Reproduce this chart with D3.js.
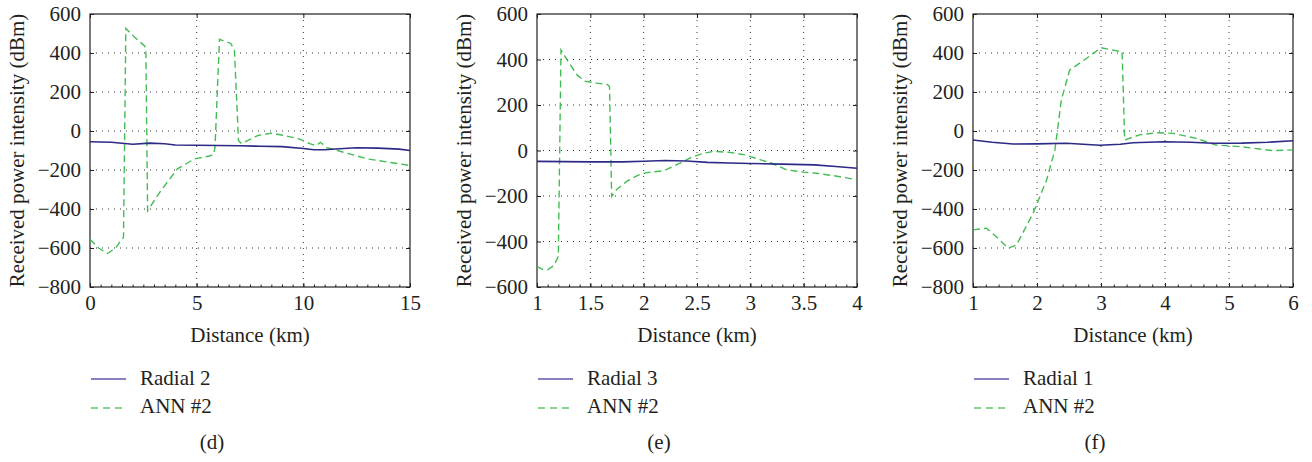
<!DOCTYPE html>
<html>
<head>
<meta charset="utf-8">
<script src="https://cdn.jsdelivr.net/npm/d3@7"></script>
<style>
  body { margin: 0; background: #fff; }
  svg { display: block; }
  text { font-family: "Liberation Serif", "DejaVu Serif", serif !important; }
</style>
</head>
<body>
<svg id="chart" width="1312" height="462"></svg>
<script>
// panel (d)
const radial2X = [0, 1, 2, 2.8, 3.5, 4, 5, 6, 7, 8, 9, 10, 10.5, 11, 11.5, 12.5, 13.5, 14.5, 15];
const radial2Y = [-55, -58, -68, -62, -65, -72, -73, -74, -76, -78, -80, -90, -96, -96, -92, -86, -88, -93, -100];
const annDX = [0, 0.4, 0.82, 1.2, 1.44, 1.57, 1.68, 2.07, 2.57, 2.62, 2.7, 3.32, 4.1, 4.9, 5.6, 5.8, 5.86, 6.07, 6.6, 6.77, 6.96, 7.1, 7.87, 8.5, 9.1, 9.8, 10.3, 10.6, 10.8, 11.1, 11.6, 13.0, 15];
const annDY = [-555, -600, -628, -600, -563, -546, 526, 483, 435, 406, -409, -306, -194, -143, -128, -120, -83, 470, 449, 415, -49, -65, -23, -11, -23, -40, -65, -75, -58, -85, -100, -143, -177];

// panel (e)
const radial3X = [1, 1.5, 1.8, 2.0, 2.2, 2.4, 2.6, 2.8, 3.0, 3.3, 3.6, 3.8, 4];
const radial3Y = [-48, -50, -50, -47, -44, -46, -52, -55, -57, -60, -63, -70, -78];
const annEX = [1, 1.05, 1.1, 1.16, 1.2, 1.225, 1.24, 1.3, 1.38, 1.45, 1.56, 1.66, 1.68, 1.70, 1.75, 1.84, 1.95, 2.03, 2.19, 2.34, 2.45, 2.56, 2.66, 2.8, 2.95, 3.09, 3.2, 3.34, 3.5, 3.62, 3.8, 4];
const annEY = [-509, -522, -524, -505, -465, 442, 430, 385, 330, 305, 296, 290, 280, -202, -170, -136, -108, -97, -89, -56, -30, -12, -4, -8, -19, -40, -56, -85, -95, -100, -112, -129];

// panel (f)
const radial1X = [1, 1.3, 1.625, 2, 2.46, 2.98, 3.3, 3.5, 3.97, 4.4, 4.75, 5.2, 5.6, 6];
const radial1Y = [-46, -58, -67, -66, -63, -73, -68, -60, -55, -58, -63, -62, -58, -50];
const annFX = [1, 1.21, 1.36, 1.55, 1.68, 1.94, 2.15, 2.28, 2.38, 2.51, 2.77, 3.0, 3.19, 3.33, 3.37, 3.6, 3.86, 4.13, 4.49, 4.8, 5.17, 5.69, 6];
const annFY = [-507, -498, -541, -601, -584, -421, -251, -97, 159, 312, 372, 427, 415, 406, -46, -20, -9, -12, -38, -72, -80, -101, -97];

const xTicksD = [0, 5, 10, 15];
const xTicksE = [1, 1.5, 2, 2.5, 3, 3.5, 4];
const xTicksF = [1, 2, 3, 4, 5, 6];
const yTicksDF = [-800, -600, -400, -200, 0, 200, 400, 600];
const yTicksE = [-600, -400, -200, 0, 200, 400, 600];

const svg = d3.select('#chart');
const plotTop = 14, plotBottom = 287, plotW = 320;
const radialColor = '#2c2a86', annColor = '#42bd53', ink = '#231f20';
const fontSize = 21;

const zip = (xs, ys) => xs.map((x, i) => [x, ys[i]]);

const drawPanel = (cfg) => {
  const x = d3.scaleLinear().domain(cfg.xDomain).range([cfg.left, cfg.left + plotW]);
  const y = d3.scaleLinear().domain(cfg.yDomain).range([plotBottom, plotTop]);
  const g = svg.append('g');

  // dotted grid
  g.selectAll('.gx').data(cfg.xTicks.slice(1, -1)).enter().append('line')
    .attr('x1', d => x(d)).attr('x2', d => x(d)).attr('y1', plotTop).attr('y2', plotBottom)
    .attr('stroke', '#333').attr('stroke-width', 1).attr('stroke-dasharray', '1,5');
  g.selectAll('.gy').data(cfg.yTicks.slice(1, -1)).enter().append('line')
    .attr('y1', d => y(d)).attr('y2', d => y(d)).attr('x1', cfg.left).attr('x2', cfg.left + plotW)
    .attr('stroke', '#333').attr('stroke-width', 1).attr('stroke-dasharray', '1,5');

  // axes with inward ticks
  const fmt = d3.format('');
  g.append('g').attr('transform', `translate(0,${plotBottom})`)
    .call(d3.axisBottom(x).tickValues(d3.range(cfg.xDomain[0], cfg.xDomain[1] + 1e-9, cfg.xMinor)).tickSize(-2.5).tickFormat(''))
    .call(a => a.select('.domain').remove());
  g.append('g').attr('transform', `translate(0,${plotBottom})`)
    .call(d3.axisBottom(x).tickValues(cfg.xTicks).tickSize(-4).tickPadding(8).tickFormat(fmt))
    .call(a => a.select('.domain').remove());
  g.append('g').attr('transform', `translate(0,${plotTop})`)
    .call(d3.axisTop(x).tickValues(cfg.xTicks).tickSize(-4).tickFormat(''))
    .call(a => a.select('.domain').remove());
  g.append('g').attr('transform', `translate(${cfg.left},0)`)
    .call(d3.axisLeft(y).tickValues(cfg.yTicks).tickSize(-4).tickPadding(9).tickFormat(fmt))
    .call(a => a.select('.domain').remove());
  g.append('g').attr('transform', `translate(${cfg.left + plotW},0)`)
    .call(d3.axisRight(y).tickValues(cfg.yTicks).tickSize(-4).tickFormat(''))
    .call(a => a.select('.domain').remove());
  g.selectAll('.tick text').attr('font-size', fontSize).attr('fill', ink);
  g.selectAll('.tick line').attr('stroke', ink);

  g.append('rect').attr('x', cfg.left).attr('y', plotTop).attr('width', plotW).attr('height', plotBottom - plotTop)
    .attr('fill', 'none').attr('stroke', ink).attr('stroke-width', 1.2);

  const line = d3.line().x(d => x(d[0])).y(d => y(d[1]));
  g.append('path').datum(zip(cfg.annX, cfg.annY)).attr('d', line)
    .attr('fill', 'none').attr('stroke', annColor).attr('stroke-width', 1.4).attr('stroke-dasharray', '7,4');
  g.append('path').datum(zip(cfg.radX, cfg.radY)).attr('d', line)
    .attr('fill', 'none').attr('stroke', radialColor).attr('stroke-width', 1.6);

  // titles
  g.append('text').attr('x', cfg.left + plotW / 2).attr('y', 342).attr('text-anchor', 'middle')
    .attr('font-size', fontSize).attr('fill', ink).text('Distance (km)');
  g.append('text').attr('transform', `translate(${cfg.left - 66},150.5) rotate(-90)`)
    .attr('text-anchor', 'middle').attr('font-size', fontSize).attr('fill', ink)
    .text('Received power intensity (dBm)');

  // legend
  const lx = cfg.left + 1;
  g.append('line').attr('x1', lx).attr('x2', lx + 35).attr('y1', 379).attr('y2', 379)
    .attr('stroke', '#5f58a8').attr('stroke-width', 1.4);
  g.append('text').attr('x', lx + 49).attr('y', 384.5).attr('font-size', fontSize).attr('fill', ink).text(cfg.radName);
  g.append('line').attr('x1', lx).attr('x2', lx + 35).attr('y1', 408).attr('y2', 408)
    .attr('stroke', '#5dc66a').attr('stroke-width', 1.4).attr('stroke-dasharray', '7,5');
  g.append('text').attr('x', lx + 49).attr('y', 413).attr('font-size', fontSize).attr('fill', ink).text('ANN #2');

  g.append('text').attr('x', cfg.left + 122).attr('y', 449).attr('text-anchor', 'middle')
    .attr('font-size', fontSize).attr('fill', ink).text(cfg.caption);
};

drawPanel({ left: 90, xDomain: [0, 15], xTicks: xTicksD, xMinor: 0.5, yDomain: [-800, 600], yTicks: yTicksDF,
  radX: radial2X, radY: radial2Y, annX: annDX, annY: annDY, radName: 'Radial 2', caption: '(d)' });
drawPanel({ left: 537, xDomain: [1, 4], xTicks: xTicksE, xMinor: 0.1, yDomain: [-600, 600], yTicks: yTicksE,
  radX: radial3X, radY: radial3Y, annX: annEX, annY: annEY, radName: 'Radial 3', caption: '(e)' });
drawPanel({ left: 973, xDomain: [1, 6], xTicks: xTicksF, xMinor: 0.2, yDomain: [-800, 600], yTicks: yTicksDF,
  radX: radial1X, radY: radial1Y, annX: annFX, annY: annFY, radName: 'Radial 1', caption: '(f)' });
</script>
</body>
</html>
